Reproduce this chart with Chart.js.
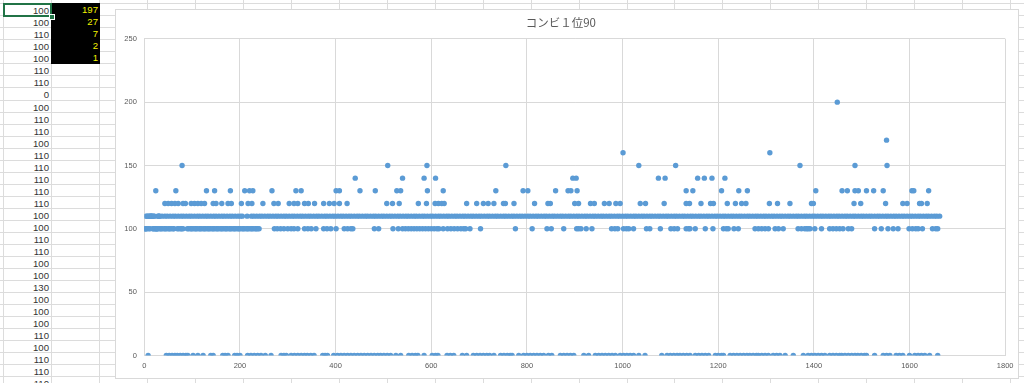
<!DOCTYPE html>
<html>
<head>
<meta charset="utf-8">
<script src="https://cdn.jsdelivr.net/npm/chart.js@4.4.1/dist/chart.umd.min.js"></script>
<style>
html,body{margin:0;padding:0;background:#fff;width:1024px;height:383px;overflow:hidden;}
body{position:relative;font-family:"Liberation Sans","Noto Sans",sans-serif;}
.hl{position:absolute;left:0;width:1024px;height:1px;background:#dcdcdc;}
.vl{position:absolute;top:0;width:1px;height:383px;background:#dcdcdc;}
.cell{position:absolute;height:12px;line-height:13px;font-size:9.6px;text-align:right;color:#333;box-sizing:border-box;padding-right:2px;}
.blk{background:#000;color:#f2f200;}
#sel{position:absolute;left:3px;top:3px;width:49px;height:14px;border:2px solid #217346;box-sizing:border-box;}
#handle{position:absolute;left:49px;top:14px;width:4px;height:4px;background:#217346;border:1px solid #fff;}
#panel{position:absolute;left:115px;top:9px;width:904px;height:370px;background:#fff;border:1px solid #d9d9d9;box-sizing:border-box;}
#wrap{position:absolute;left:-1px;top:-1px;width:904px;height:370px;}
</style>
</head>
<body>
<div id="sheet"></div>
<div id="panel"><div id="wrap"><canvas id="c" width="904" height="370"></canvas></div></div>
<script>
// ---- spreadsheet cells ----
const sheetColA = [100,100,110,100,100,110,110,0,100,110,110,100,110,110,110,110,110,100,100,110,110,100,100,130,100,100,100,110,100,110,110,110];
const sheetColB = [197,27,7,2,1];

// ---- chart data (x = row index, y = value) ----
const chartTitle = 'コンビ１位90';
const xTicks = [0,200,400,600,800,1000,1200,1400,1600,1800];
const yTicks = [0,50,100,150,200,250];

const x0 = [8,46,52,58,64,69,75,81,87,91,102,112,123,139,144,164,169,175,189,194,200,216,223,230,237,244,253,265,286,292,297,307,314,321,328,335,341,348,355,373,378,383,396,404,411,418,425,432,439,446,453,460,467,474,481,488,494,501,508,515,526,536,553,560,567,572,585,602,609,614,633,640,647,665,674,688,695,702,709,716,722,731,745,752,759,765,769,783,793,800,807,814,821,828,835,845,852,870,877,884,891,898,919,929,943,950,957,964,971,978,985,995,1002,1009,1016,1023,1034,1047,1082,1093,1100,1107,1114,1120,1127,1134,1141,1152,1159,1166,1173,1180,1194,1200,1207,1211,1225,1232,1239,1246,1253,1260,1266,1273,1280,1284,1291,1298,1305,1315,1322,1329,1340,1357,1378,1388,1395,1402,1409,1416,1423,1433,1440,1447,1454,1458,1465,1472,1479,1486,1492,1499,1506,1510,1527,1545,1552,1559,1572,1579,1586,1600,1611,1618,1625,1632,1642,1659];

const x100 = [1,2,4,5,9,12,18,19,22,23,25,26,27,29,33,35,38,42,44,47,51,53,56,60,62,69,72,76,78,81,90,93,97,99,102,106,108,111,115,117,120,124,126,129,133,135,138,142,144,147,151,153,156,160,162,165,169,171,174,178,180,183,187,189,192,196,198,201,205,207,210,214,216,219,223,225,228,232,234,237,240,272,278,285,292,300,307,313,321,335,342,349,359,375,382,390,401,418,425,432,436,481,490,520,531,540,546,552,558,564,570,576,582,588,594,600,606,612,616,625,634,641,648,655,662,668,672,681,703,776,811,842,851,877,904,908,913,924,936,977,984,990,1002,1008,1013,1023,1050,1057,1079,1101,1108,1115,1133,1138,1141,1152,1173,1189,1211,1217,1221,1233,1242,1277,1284,1291,1298,1305,1319,1326,1336,1367,1374,1381,1385,1388,1392,1402,1416,1433,1440,1447,1454,1461,1472,1479,1527,1541,1555,1566,1576,1599,1606,1613,1618,1627,1648,1655,1659];

const x110 = [3,6,7,10,11,13,14,15,16,17,20,21,28,30,31,32,37,43,48,54,60,65,71,77,82,88,94,99,105,111,116,122,128,133,139,145,150,156,162,167,173,179,184,190,196,201,205,215,224,229,235,241,246,252,258,263,269,275,280,286,292,297,303,309,314,320,326,331,337,343,348,354,360,365,371,377,382,388,394,399,405,411,416,422,428,433,439,445,450,456,462,467,473,479,484,490,496,501,507,513,518,524,530,535,541,547,552,558,564,569,575,581,586,592,598,603,609,615,620,626,632,637,643,649,654,660,666,671,677,683,688,694,700,705,711,717,722,728,734,739,745,751,756,762,768,773,779,785,790,796,802,807,813,819,824,830,836,841,847,853,858,864,870,875,881,887,892,898,904,909,915,921,926,932,938,943,949,955,960,966,972,977,983,989,994,1000,1006,1011,1017,1023,1028,1034,1040,1045,1051,1057,1062,1068,1074,1079,1085,1091,1096,1102,1108,1113,1119,1125,1130,1136,1142,1147,1153,1159,1164,1170,1176,1181,1187,1193,1198,1204,1210,1215,1221,1227,1232,1238,1244,1249,1255,1261,1266,1272,1278,1283,1289,1295,1300,1306,1312,1317,1323,1329,1334,1340,1346,1351,1357,1363,1368,1374,1380,1385,1391,1397,1402,1408,1414,1419,1425,1431,1436,1442,1448,1453,1459,1465,1470,1476,1482,1487,1493,1499,1504,1510,1516,1521,1527,1533,1538,1544,1550,1555,1561,1567,1572,1578,1584,1589,1595,1601,1606,1612,1618,1623,1629,1635,1640,1646,1652,1657,1663];

const x120 = [43,50,57,64,71,81,86,98,105,112,119,126,144,150,162,175,182,203,217,225,248,271,280,303,313,321,335,343,356,375,387,397,408,424,507,519,533,573,590,608,615,622,627,674,695,709,719,731,751,755,773,816,844,849,900,908,933,941,962,972,986,995,1037,1048,1087,1133,1140,1164,1184,1190,1219,1236,1249,1258,1307,1324,1350,1395,1399,1484,1498,1550,1586,1595,1621,1625,1637];

const x130 = [24,66,130,147,180,210,220,227,267,317,328,401,408,451,483,528,536,592,625,735,792,802,860,886,892,905,1133,1147,1207,1243,1261,1404,1459,1470,1486,1493,1510,1525,1545,1605,1609,1640];

const x140 = [441,540,585,609,896,903,1075,1089,1157,1171,1187,1214];
const x150 = [79,509,591,756,1034,1111,1371,1486,1553];
const x160 = [1001,1308];
const x170 = [1552];
const x200 = [1449];

const levels = [0,100,110,120,130,140,150,160,170,200];
const levelX = [x0,x100,x110,x120,x130,x140,x150,x160,x170,x200];

// ---- build spreadsheet ----
(function(){
  const sheet = document.getElementById('sheet');
  const rowTop = k => Math.round(3.2 + 12.04 * k);
  let html = '';
  for (let k = 0; k <= 32; k++) html += '<div class="hl" style="top:' + rowTop(k) + 'px"></div>';
  const cols = [3, 51, 99];
  for (let k = 1; k <= 19; k++) cols.push(Math.round(99.3 + 47.93 * k));
  cols.forEach(x => { html += '<div class="vl" style="left:' + x + 'px"></div>'; });
  sheetColA.forEach((v, i) => {
    html += '<div class="cell" style="left:3px;width:48px;top:' + (rowTop(i) + 1) + 'px">' + v + '</div>';
  });
  sheetColB.forEach((v, i) => {
    html += '<div class="cell blk" style="left:51px;width:49px;top:' + (rowTop(i)) + 'px;height:' + (rowTop(i+1) - rowTop(i) + (i === sheetColB.length-1 ? 1 : 0)) + 'px">' + v + '</div>';
  });
  html += '<div id="sel"></div><div id="handle"></div>';
  sheet.innerHTML = html;
})();

// ---- chart ----
const points = [];
levels.forEach((lv, i) => levelX[i].forEach(x => points.push({x: x, y: lv})));
points.sort((a, b) => a.x - b.x);

const tickFont = {family: '"Liberation Sans","Noto Sans",sans-serif', size: 7.5};
new Chart(document.getElementById('c'), {
  type: 'scatter',
  data: {datasets: [{
    data: points,
    backgroundColor: '#5B9BD5',
    borderColor: '#5B9BD5',
    borderWidth: 0,
    pointRadius: 2.7,
    pointHoverRadius: 2.7
  }]},
  options: {
    responsive: false,
    animation: false,
    devicePixelRatio: 1,
    layout: {padding: {left: 0, right: 12.3, top: 0, bottom: 0}},
    plugins: {
      legend: {display: false},
      tooltip: {enabled: false},
      title: {
        display: true, text: chartTitle, color: '#595959',
        font: {family: '"Noto Sans CJK JP","Noto Sans",sans-serif', size: 11.5, weight: 'normal'},
        padding: {top: 7, bottom: 9}
      }
    },
    scales: {
      x: {
        type: 'linear', min: xTicks[0], max: xTicks[xTicks.length-1],
        afterBuildTicks: s => { s.ticks = xTicks.map(v => ({value: v})); },
        ticks: {color: '#595959', font: tickFont, padding: 5.5, maxRotation: 0, autoSkip: false, callback: v => String(v)},
        grid: {color: '#d9d9d9', drawTicks: false},
        border: {color: '#d9d9d9'},
        afterFit: s => { s.height = 23.5; }
      },
      y: {
        type: 'linear', min: yTicks[0], max: yTicks[yTicks.length-1],
        afterBuildTicks: s => { s.ticks = yTicks.map(v => ({value: v})); },
        ticks: {color: '#595959', font: tickFont, padding: 7.5, callback: v => String(v)},
        grid: {color: '#d9d9d9', drawTicks: false},
        border: {color: '#d9d9d9'},
        afterFit: s => { s.width = 29.3; }
      }
    }
  }
});
</script>
</body>
</html>
